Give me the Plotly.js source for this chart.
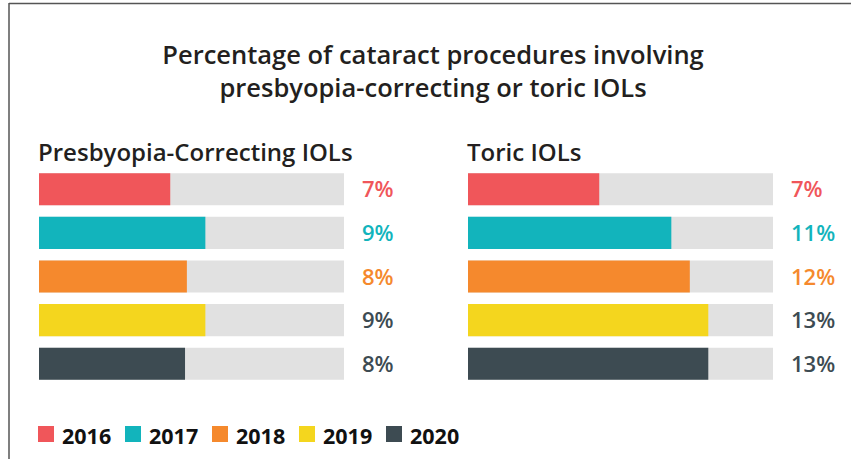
<!DOCTYPE html>
<html>
<head>
<meta charset="utf-8">
<script src="https://cdn.plot.ly/plotly-3.0.1.min.js"></script>
<style>html,body{margin:0;padding:0;background:#fff;}#chart{width:851px;height:459px;}</style>
</head>
<body>
<div id="chart"></div>
<script>
// ---- data ----
var years = ['2016', '2017', '2018', '2019', '2020'];
var presbyopiaValues = [7.1, 9.0, 8.0, 9.0, 7.9];
var toricValues = [7.1, 11.0, 12.0, 13.0, 13.0];
var scaleMax = 16.5;
var titleText = 'Percentage of cataract procedures involving<br>presbyopia-correcting or toric IOLs';
var panelTitles = ['Presbyopia-Correcting IOLs', 'Toric IOLs'];

// ---- styles ----
var barColors = ['#F0565A', '#12B4BC', '#F5892D', '#F4D61E', '#3D4B52'];
var labelColors = ['#F0565A', '#12B4BC', '#F5892D', '#3D4B52', '#3D4B52'];
var gray = '#E1E1E1';
var FONT = 'Open Sans, sans-serif';
var W = 851, H = 459;
function px(x) { return x / W; }
function py(y) { return 1 - y / H; }

function panelTraces(values, xa, ya) {
  return [
    { type: 'bar', orientation: 'h', y: years, x: years.map(function () { return scaleMax; }),
      xaxis: xa, yaxis: ya, marker: { color: gray }, hoverinfo: 'skip', showlegend: false },
    { type: 'bar', orientation: 'h', y: years, x: values,
      xaxis: xa, yaxis: ya, marker: { color: barColors }, showlegend: false,
      hovertemplate: '%{y}: %{x}%<extra></extra>' }
  ];
}

var data = panelTraces(presbyopiaValues, 'x', 'y').concat(panelTraces(toricValues, 'x2', 'y2'));

var yDomain = [py(385.6), py(167.4)];
function xAxis(d, anchor) {
  return { domain: d, anchor: anchor, range: [0, scaleMax], autorange: false, showgrid: false, zeroline: false,
           showticklabels: false, showline: false, ticks: '', fixedrange: true };
}
function yAxis(anchor) {
  return { domain: yDomain, anchor: anchor, type: 'category', categoryorder: 'array', categoryarray: years,
           range: [years.length - 0.5, -0.5], autorange: false, showgrid: false,
           zeroline: false, showticklabels: false, showline: false, ticks: '', fixedrange: true };
}

var annotations = [];
function pctLabels(values, xref, yref) {
  values.forEach(function (v, i) {
    annotations.push({ xref: xref, yref: yref, x: scaleMax, y: i, xanchor: 'left', yanchor: 'middle',
      xshift: 16, yshift: 1, showarrow: false, text: Math.round(v) + '%',
      font: { family: FONT, size: 22, weight: 600, color: labelColors[i] } });
  });
}
pctLabels(presbyopiaValues, 'x', 'y');
pctLabels(toricValues, 'x2', 'y2');

// panel titles
annotations.push({ xref: 'paper', yref: 'paper', x: px(36), y: py(151), xanchor: 'left', yanchor: 'middle',
  showarrow: false, text: panelTitles[0], font: { family: FONT, size: 24, weight: 600, color: '#231F20' } });
annotations.push({ xref: 'paper', yref: 'paper', x: px(465), y: py(151), xanchor: 'left', yanchor: 'middle',
  showarrow: false, text: panelTitles[1], font: { family: FONT, size: 24, weight: 600, color: '#231F20' } });

// legend (manual)
var shapes = [];
years.forEach(function (yr, i) {
  var x0 = 38 + 87 * i;
  shapes.push({ type: 'rect', xref: 'paper', yref: 'paper', x0: px(x0), x1: px(x0 + 16), y0: py(442), y1: py(426),
    fillcolor: barColors[i], line: { width: 0 } });
  annotations.push({ xref: 'paper', yref: 'paper', x: px(x0 + 22), y: py(435), xanchor: 'left', yanchor: 'middle',
    showarrow: false, text: yr, font: { family: FONT, size: 21.5, weight: 700, color: '#111111' } });
});

// frame lines
shapes.push({ type: 'line', xref: 'paper', yref: 'paper', x0: px(9), x1: px(9), y0: 0, y1: py(3), line: { color: '#555', width: 1.5 } });
shapes.push({ type: 'line', xref: 'paper', yref: 'paper', x0: px(9), x1: 1, y0: py(3.5), y1: py(3.5), line: { color: '#555', width: 1.5 } });

var layout = {
  width: W, height: H,
  margin: { l: 0, r: 0, t: 0, b: 0 },
  paper_bgcolor: '#ffffff', plot_bgcolor: 'rgba(0,0,0,0)',
  barmode: 'overlay', bargap: 0.266,
  showlegend: false,
  title: { text: titleText, x: px(433), xanchor: 'center', y: py(63.5), yanchor: 'middle',
           xref: 'paper', yref: 'paper',
           font: { family: FONT, size: 25.5, weight: 600, color: '#231F20' } },
  xaxis: xAxis([px(39), px(344)], 'y'),
  yaxis: yAxis('x'),
  xaxis2: xAxis([px(468), px(773)], 'y2'),
  yaxis2: yAxis('x2'),
  annotations: annotations,
  shapes: shapes
};

Plotly.newPlot('chart', data, layout, { displayModeBar: false });
</script>
</body>
</html>
